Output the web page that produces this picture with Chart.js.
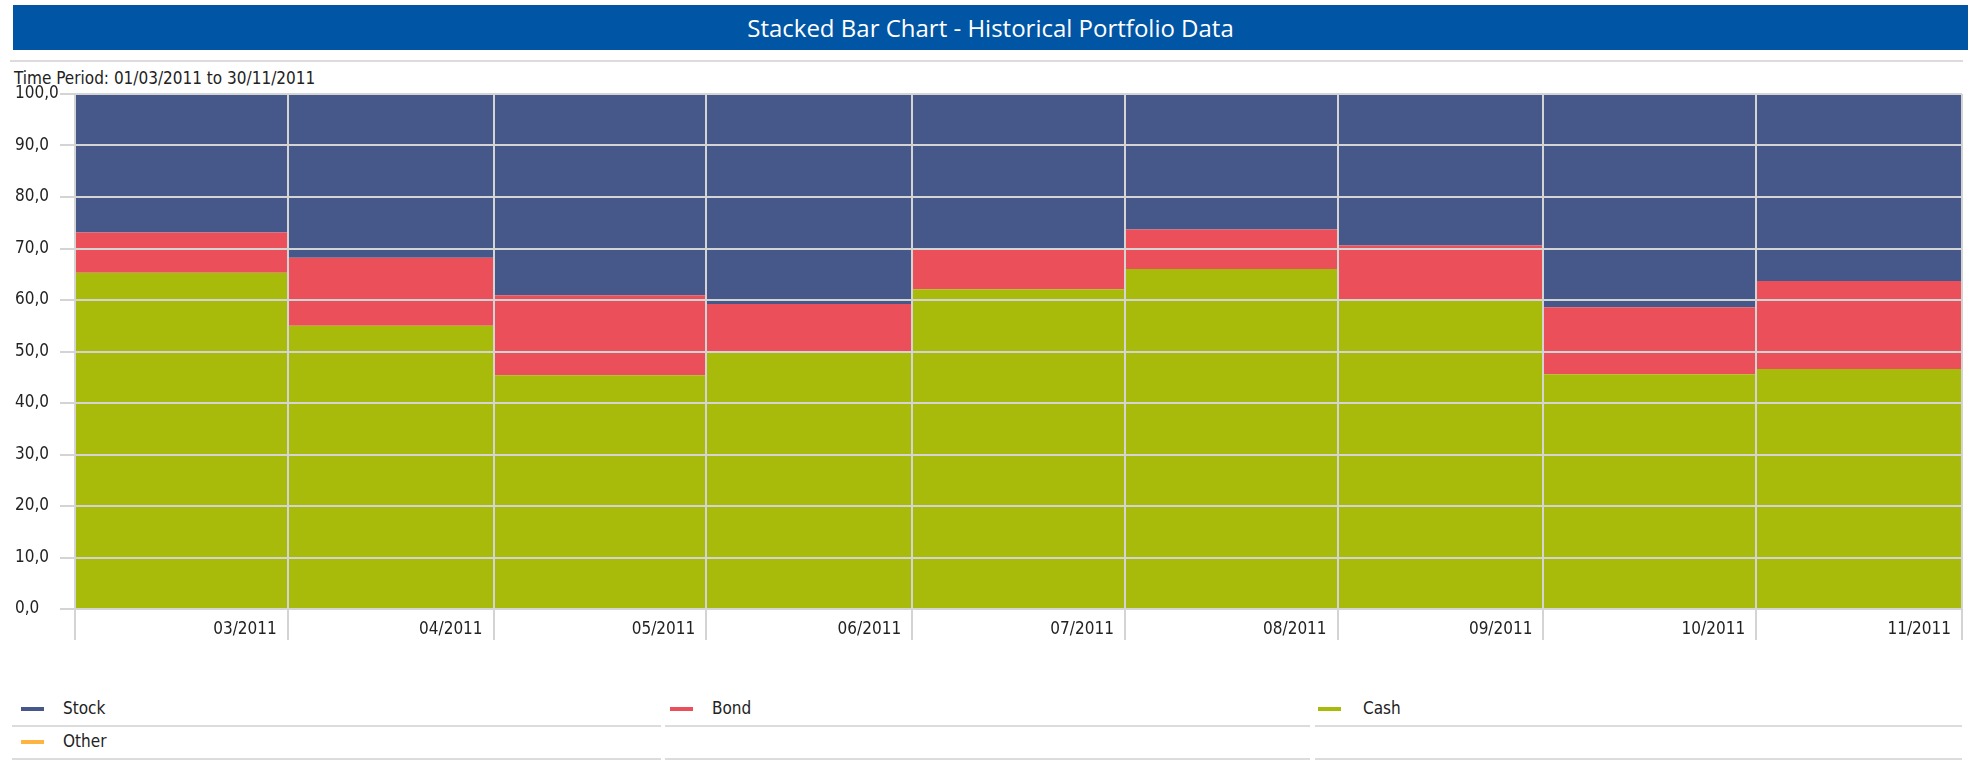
<!DOCTYPE html>
<html>
<head>
<meta charset="utf-8">
<script src="https://cdn.jsdelivr.net/npm/chart.js@4/dist/chart.umd.min.js"></script>
<style>
  body { margin: 0; background: #fff; width: 1982px; height: 765px; position: relative; overflow: hidden; }
  #title { position: absolute; left: 13px; top: 5px; width: 1955px; height: 45px; background: #0055A4; color: #fff;
           font: 24px 'Open Sans', sans-serif; line-height: 45px; text-align: center; }
  #rule { position: absolute; left: 10px; top: 60px; width: 1953px; height: 2px; background: #dcdcdc; }
  #period { position: absolute; left: 14px; top: 66px; font: condensed 17px 'DejaVu Sans', sans-serif; line-height: 24px; color: #222; }
  #wrap { position: absolute; left: 0; top: 70px; width: 1982px; height: 580px; }
  .leg { position: absolute; height: 33px; border-bottom: 2px solid #dcdcdc; font: condensed 17px 'DejaVu Sans', sans-serif; color: #222; }
  .leg span.sw { position: absolute; top: 15px; width: 23px; height: 4px; }
  .leg span.tx { position: absolute; top: 4px; line-height: 24px; }
</style>
</head>
<body>
<div id="title">Stacked Bar Chart - Historical Portfolio Data</div>
<div id="rule"></div>
<div id="period">Time Period: 01/03/2011 to 30/11/2011</div>
<div id="wrap"><canvas id="chart"></canvas></div>
<div id="legend"></div>
<script>
// months and their length in days (bars are as wide as the month)
const months = ['03/2011', '04/2011', '05/2011', '06/2011', '07/2011', '08/2011', '09/2011', '10/2011', '11/2011'];
const monthDays = [31, 30, 31, 30, 31, 31, 30, 31, 30];

// portfolio weights in %
const stock = [26.9, 31.8, 39.1, 40.8, 30.3, 26.3, 29.4, 41.4, 36.3];
const bond  = [7.8, 13.2, 15.5, 9.2, 7.6, 7.7, 10.5, 13.0, 17.1];
const cash  = [65.3, 55.0, 45.4, 50.0, 62.1, 66.0, 60.1, 45.6, 46.6];
const other = [0, 0, 0, 0, 0, 0, 0, 0, 0];

const colors = { Stock: '#465789', Bond: '#EB505A', Cash: '#A8BA0A', Other: '#FFB340' };
// 'condensed' ends up in the canvas font string and picks DejaVu Sans Condensed
const tickFont = { family: "'DejaVu Sans', sans-serif", size: 17, weight: 'condensed' };

const starts = [];
const ends = [];
let day = 0;
monthDays.forEach(n => { starts.push(day); day += n; ends.push(day); });
const total = day;

// one step per month, closed at the end of the last month
function steps(values) {
  const pts = values.map((v, i) => ({ x: starts[i], y: v }));
  pts.push({ x: total, y: values[values.length - 1] });
  return pts;
}

function series(label, values, fill) {
  return {
    label, data: steps(values), fill,
    backgroundColor: colors[label], borderColor: 'transparent', borderWidth: 0,
    pointRadius: 0, stepped: 'before', tension: 0
  };
}

const grid = '#d4d4d4';

new Chart(document.getElementById('chart'), {
  type: 'line',
  data: {
    datasets: [
      series('Cash', cash, 'origin'),
      series('Bond', bond, '-1'),
      series('Stock', stock, '-1'),
      series('Other', other, '-1')
    ]
  },
  options: {
    responsive: true,
    maintainAspectRatio: false,
    animation: false,
    layout: { padding: { left: 15, right: 20, top: 24, bottom: 10 } },
    plugins: { legend: { display: false }, tooltip: { enabled: false } },
    scales: {
      x: {
        type: 'linear', min: 0, max: total,
        afterBuildTicks: s => { s.ticks = [{ value: 0 }].concat(ends.map(v => ({ value: v }))); },
        afterFit: s => { s.height = 31; },
        grid: { color: grid, lineWidth: 2, tickLength: 31, z: 1 },
        border: { display: false },
        ticks: {
          autoSkip: false, maxRotation: 0, align: 'end', labelOffset: -11, padding: -21,
          color: '#222', font: tickFont,
          callback: (v, i) => i === 0 ? '' : months[i - 1]
        }
      },
      y: {
        stacked: true, min: 0, max: 100,
        afterFit: s => { s.width = 60; },
        grid: { color: grid, lineWidth: 2, tickLength: 15, z: 1 },
        border: { display: false },
        ticks: {
          stepSize: 10, crossAlign: 'far', color: '#222', font: tickFont,
          callback: v => v.toFixed(1).replace('.', ',')
        }
      }
    }
  }
});

// legend laid out in three columns like the original
const legendItems = ['Stock', 'Bond', 'Cash', 'Other'];
const cols = [{ left: 12, width: 649, sw: 9, tx: 51 }, { left: 665, width: 645, sw: 5, tx: 47 }, { left: 1315, width: 647, sw: 3, tx: 48 }];
const legend = document.getElementById('legend');
for (let i = 0; i < 6; i++) {
  const c = cols[i % 3];
  const el = document.createElement('div');
  el.className = 'leg';
  el.style.left = c.left + 'px';
  el.style.width = c.width + 'px';
  el.style.top = (692 + Math.floor(i / 3) * 33) + 'px';
  const name = legendItems[i];
  if (name) {
    el.innerHTML = '<span class="sw" style="left:' + c.sw + 'px;background:' + colors[name] + '"></span>' +
                   '<span class="tx" style="left:' + c.tx + 'px">' + name + '</span>';
  }
  legend.appendChild(el);
}
</script>
</body>
</html>
